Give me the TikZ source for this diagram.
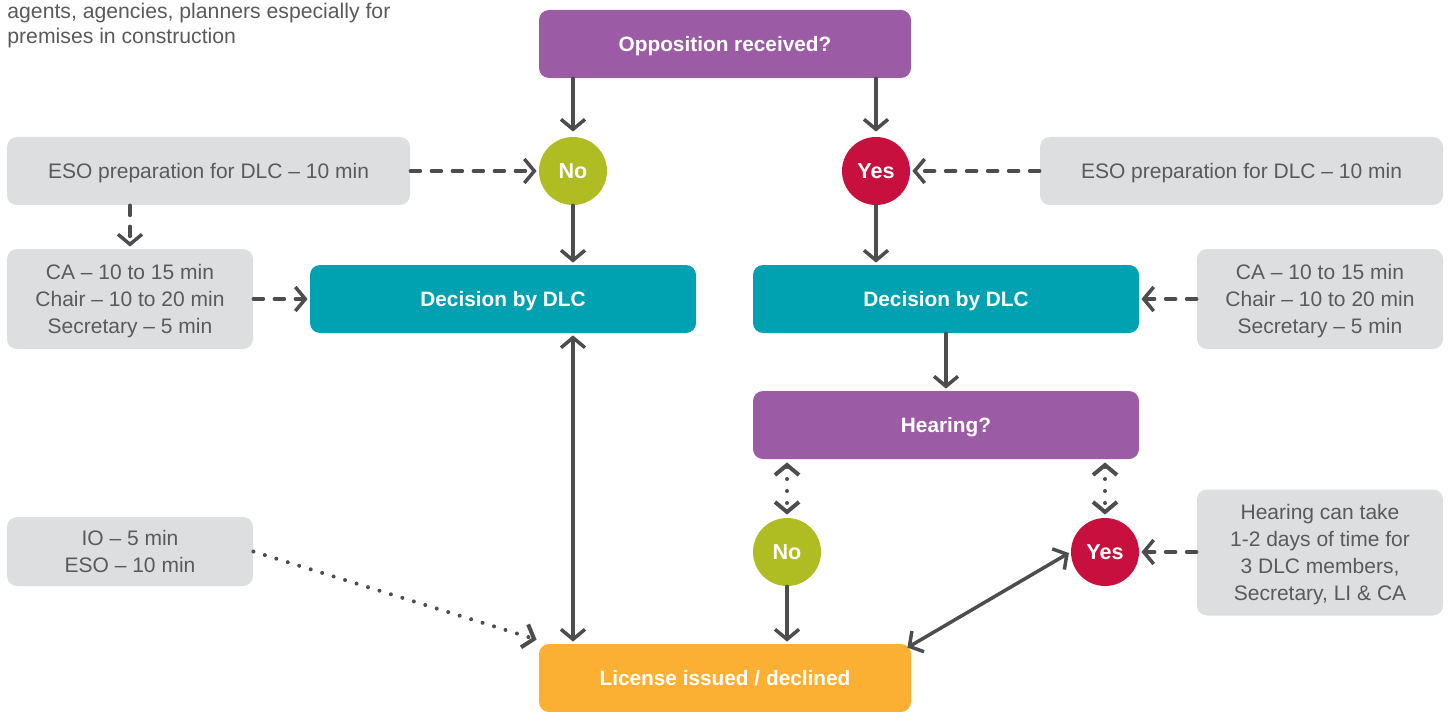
\documentclass[tikz,border=0pt]{standalone}
\usepackage{fontspec}
\setmainfont{Liberation Sans}
\usetikzlibrary{arrows.meta}
\definecolor{cpurple}{RGB}{155,91,165}
\definecolor{cteal}{RGB}{0,161,176}
\definecolor{colive}{RGB}{175,189,34}
\definecolor{ccrimson}{RGB}{200,16,62}
\definecolor{corange}{RGB}{251,176,52}
\definecolor{cgray}{RGB}{221,222,223}
\definecolor{ctext}{RGB}{90,90,90}
\definecolor{cline}{RGB}{77,77,77}
\tikzset{
  box/.style={rounded corners=5pt, inner sep=0pt, align=center, text=white, text depth=0pt,
    font=\bfseries\fontsize{10.4}{12}\selectfont},
  graybox/.style={rounded corners=5pt, fill=cgray, text=ctext, align=center, inner sep=0pt, text depth=0pt,
    font=\fontsize{10.5}{13.6}\selectfont},
  circ/.style={circle, minimum size=34pt, inner sep=0pt, text=white,
    font=\bfseries\fontsize{10.8}{12}\selectfont},
  conn/.style={draw=cline, line width=1.75pt, line cap=round, -{Straight Barb[length=5pt,width=12pt]}},
  dconn/.style={draw=cline, line width=1.75pt, line cap=round, {Straight Barb[length=5pt,width=12pt]}-{Straight Barb[length=5pt,width=12pt]}},
  dashconn/.style={conn, dash pattern=on 5pt off 5.5pt},
  dotconn/.style={conn, line width=2pt, dash pattern=on 0pt off 6pt},
  ddotconn/.style={dconn, line width=2pt, dash pattern=on 0pt off 6pt},
}
\begin{document}
\begin{tikzpicture}[x=0.5pt,y=-0.5pt]
\useasboundingbox (0,0) rectangle (1454,711);

\node[anchor=north west, inner sep=0pt, align=left, text=ctext, font=\fontsize{10.6}{12.6}\selectfont] (intro) at (7,2.5)
  {agents, agencies, planners especially for\\premises in construction};

\node[box, fill=cpurple, minimum width=186pt, minimum height=34pt] (opp) at (725,44) {Opposition received?};
\node[circ, fill=colive] (no1) at (573,171) {No};
\node[circ, fill=ccrimson] (yes1) at (876,171) {Yes};
\node[graybox, minimum width=201.5pt, minimum height=34pt] (eso1) at (208.5,171) {ESO preparation for DLC -- 10 min};
\node[graybox, minimum width=201.5pt, minimum height=34pt] (eso2) at (1241.5,171) {ESO preparation for DLC -- 10 min};
\node[graybox, minimum width=123pt, minimum height=50pt] (ca1) at (130,299) {CA -- 10 to 15 min\\Chair -- 10 to 20 min\\Secretary -- 5 min};
\node[graybox, minimum width=123pt, minimum height=50pt] (ca2) at (1320,299) {CA -- 10 to 15 min\\Chair -- 10 to 20 min\\Secretary -- 5 min};
\node[box, fill=cteal, minimum width=193pt, minimum height=34pt] (dec1) at (503,299) {Decision by DLC};
\node[box, fill=cteal, minimum width=193pt, minimum height=34pt] (dec2) at (946,299) {Decision by DLC};
\node[box, fill=cpurple, minimum width=193pt, minimum height=34pt] (hear) at (946,425) {Hearing?};
\node[circ, fill=colive] (no2) at (787,552) {No};
\node[circ, fill=ccrimson] (yes2) at (1105,552) {Yes};
\node[graybox, minimum width=123pt, minimum height=63pt] (hcan) at (1320,552.5) {Hearing can take\\1-2 days of time for\\3 DLC members,\\Secretary, LI \& CA};
\node[graybox, minimum width=123pt, minimum height=34.5pt] (io) at (130,551.5) {IO -- 5 min\\ESO -- 10 min};
\node[box, fill=corange, minimum width=186pt, minimum height=34pt] (lic) at (725,678) {License issued / declined};

% solid connectors
\draw[conn, shorten >=2.5pt] (opp.south -| no1) -- (no1.north);
\draw[conn, shorten >=2.5pt] (opp.south -| yes1) -- (yes1.north);
\draw[conn, shorten >=1pt] (no1.south) -- (dec1.north -| no1);
\draw[conn, shorten >=1pt] (yes1.south) -- (dec2.north -| yes1);
\draw[conn, shorten >=1pt] (dec2.south) -- (hear.north);
\draw[dconn, shorten <=1pt, shorten >=1pt] (dec1.south -| no1) -- (lic.north -| no1);
\draw[conn, shorten >=1pt] (no2.south) -- (lic.north -| no2);
\draw[dconn, shorten >=1pt] ([shift={(-4,4)}]lic.north east) -- (yes2.west);

% dashed connectors
\draw[dashconn, shorten >=1pt] (eso1.east) -- (no1.west);
\draw[dashconn, shorten >=1pt] (eso1.south -| ca1) -- (ca1.north);
\draw[dashconn, shorten >=1pt] (ca1.east |- dec1) -- (dec1.west);
\draw[dashconn, shorten >=1pt] (eso2.west) -- (yes1.east);
\draw[dashconn, shorten >=1pt] (ca2.west |- dec2) -- (dec2.east);
\draw[dashconn, shorten >=1pt] (hcan.west |- yes2) -- (yes2.east);

% dotted connectors
\draw[ddotconn, shorten <=1.5pt, shorten >=1.5pt] (hear.south -| no2) -- (no2.north);
\draw[ddotconn, shorten <=1.5pt, shorten >=1.5pt] (hear.south -| yes2) -- (yes2.north);
\coordinate (licin) at ([shift={(-2,-4)}]lic.north west);
\draw[dotconn] (io.east) -- (licin);
\end{tikzpicture}
\end{document}
